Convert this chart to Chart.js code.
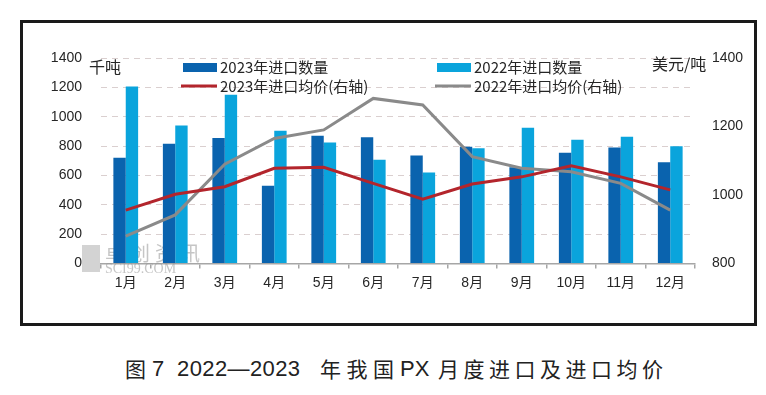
<!DOCTYPE html>
<html>
<head>
<meta charset="utf-8">
<script src="https://cdn.jsdelivr.net/npm/chart.js@4.4.0/dist/chart.umd.min.js"></script>
<style>
    body { margin: 0; background: #fff; width: 766px; height: 395px; position: relative; overflow: hidden; }
    #frame { position: absolute; left: 20px; top: 20px; width: 731px; height: 300px; border: 3px solid #1a1a1a; }
    #frame canvas { display: block; }
    #caption span { position: absolute; white-space: pre; color: #222; }
    #caption .n { font: 22px/22px "Liberation Sans", sans-serif; top: 358px; }
    #caption .c { font: 21px/22px "Noto Sans CJK SC", sans-serif; top: 357px; letter-spacing: 4.5px; }
</style>
</head>
<body>
<div id="frame"><canvas id="pxChart" width="731" height="300"></canvas></div>
<div id="caption">
    <span class="c" style="left:125px">图</span>
    <span class="n" style="left:152px">7</span>
    <span class="n" style="left:177px;letter-spacing:0.4px">2022—2023</span>
    <span class="c" style="left:320px;letter-spacing:5.5px">年我国</span>
    <span class="n" style="left:400px">PX</span>
    <span class="c" style="left:438px">月度进口及进口均价</span>
</div>
<script>
// Данные: месяцы, объёмы импорта (тыс. т) и средние цены (USD/т)
const months = ['1月', '2月', '3月', '4月', '5月', '6月', '7月', '8月', '9月', '10月', '11月', '12月'];
const qty2023 = [720, 815, 855, 530, 870, 860, 735, 795, 655, 755, 790, 690];
const qty2022 = [1205, 940, 1150, 905, 825, 707, 620, 785, 925, 843, 864, 798];
const price2023 = [956, 1002, 1024, 1078, 1081, 1034, 988, 1032, 1053, 1085, 1053, 1015];
const price2022 = [880, 942, 1090, 1165, 1190, 1282, 1263, 1112, 1078, 1068, 1034, 956];
const leftTicks = [0, 200, 400, 600, 800, 1000, 1200, 1400];
const rightTicks = [800, 1000, 1200, 1400];

const numFont = '"Liberation Sans", "Noto Sans CJK SC", sans-serif';
const cjkFont = '"Noto Sans CJK SC", sans-serif';

// Водяной знак под столбцами
const watermarkPlugin = {
    id: 'watermark',
    beforeDatasetsDraw(chart) {
        const ctx = chart.ctx;
        ctx.save();
        ctx.fillStyle = 'rgba(175,175,175,0.55)';
        ctx.fillRect(59, 222, 18, 27);
        ctx.fillStyle = 'rgba(150,150,150,0.55)';
        ctx.font = '20px ' + cjkFont;
        ctx.letterSpacing = '5px';
        ctx.textBaseline = 'middle';
        ctx.fillText('卓创资讯', 82, 230);
        ctx.letterSpacing = '0px';
        ctx.font = '14px "Liberation Serif", serif';
        ctx.fillText('SCI99.COM', 82, 246);
        ctx.restore();
    }
};

// Легенда и подписи единиц
const legendPlugin = {
    id: 'customLegend',
    afterDraw(chart) {
        const ctx = chart.ctx;
        const ds = chart.data.datasets;
        const items = [
            { d: ds[0], x: 160, y: 44, box: true },
            { d: ds[1], x: 414, y: 44, box: true },
            { d: ds[2], x: 160, y: 63, box: false },
            { d: ds[3], x: 414, y: 63, box: false }
        ];
        ctx.save();
        ctx.textBaseline = 'middle';
        ctx.font = '15px ' + cjkFont;
        items.forEach(it => {
            if (it.box) {
                ctx.fillStyle = it.d.backgroundColor;
                ctx.fillRect(it.x, it.y - 4, 34, 9);
            } else {
                ctx.strokeStyle = it.d.borderColor;
                ctx.lineWidth = 3;
                ctx.beginPath();
                ctx.moveTo(it.x - 2, it.y);
                ctx.lineTo(it.x + 34, it.y);
                ctx.stroke();
            }
            ctx.fillStyle = '#262626';
            ctx.fillText(it.d.label, it.x + 37, it.y);
        });
        ctx.font = '16px ' + cjkFont;
        ctx.fillText('千吨', 66, 44);
        ctx.fillText('美元/吨', 629, 41);
        ctx.restore();
    }
};

new Chart(document.getElementById('pxChart'), {
    data: {
        labels: months,
        datasets: [
            { type: 'bar', label: '2023年进口数量', data: qty2023, backgroundColor: '#0a63ae', yAxisID: 'y', order: 3 },
            { type: 'bar', label: '2022年进口数量', data: qty2022, backgroundColor: '#0aa4dc', yAxisID: 'y', order: 4 },
            { type: 'line', label: '2023年进口均价(右轴)', data: price2023, borderColor: '#b3252c', borderWidth: 3,
              pointRadius: 0, tension: 0, yAxisID: 'y1', order: 1 },
            { type: 'line', label: '2022年进口均价(右轴)', data: price2022, borderColor: '#8a8a8a', borderWidth: 3,
              pointRadius: 0, tension: 0, yAxisID: 'y1', order: 2 }
        ]
    },
    options: {
        responsive: false,
        animation: false,
        layout: { padding: { top: 35, left: 0, right: 0, bottom: 0 } },
        datasets: { bar: { categoryPercentage: 0.5, barPercentage: 1.0 } },
        plugins: { legend: { display: false }, tooltip: { enabled: false } },
        scales: {
            x: {
                grid: { drawOnChartArea: false, offset: true, tickLength: 5, color: '#a6a6a6', lineWidth: 1.5 },
                border: { display: true, color: '#a6a6a6', width: 1.5 },
                ticks: { color: '#262626', font: { family: numFont, size: 14 }, padding: 6 },
                afterFit(scale) { scale.height = 59.5; }
            },
            y: {
                position: 'left',
                min: 0, max: 1400,
                afterBuildTicks(scale) { scale.ticks = leftTicks.map(v => ({ value: v })); },
                grid: {
                    drawTicks: false,
                    color: ctx => ctx.tick && ctx.tick.value === 0 ? 'transparent' : '#dacfcf',
                    lineWidth: 1
                },
                border: { display: false, dash: [6, 5] },
                ticks: { color: '#262626', font: { family: numFont, size: 14 }, padding: 19, callback: v => String(v) },
                afterFit(scale) { scale.width = 78; }
            },
            y1: {
                position: 'right',
                min: 800, max: 1400,
                afterBuildTicks(scale) { scale.ticks = rightTicks.map(v => ({ value: v })); },
                grid: { display: false, drawTicks: false },
                border: { display: false },
                ticks: { color: '#262626', font: { family: numFont, size: 14 }, padding: 17, callback: v => String(v) },
                afterFit(scale) { scale.width = 59; }
            }
        }
    },
    plugins: [watermarkPlugin, legendPlugin]
});
</script>
</body>
</html>
